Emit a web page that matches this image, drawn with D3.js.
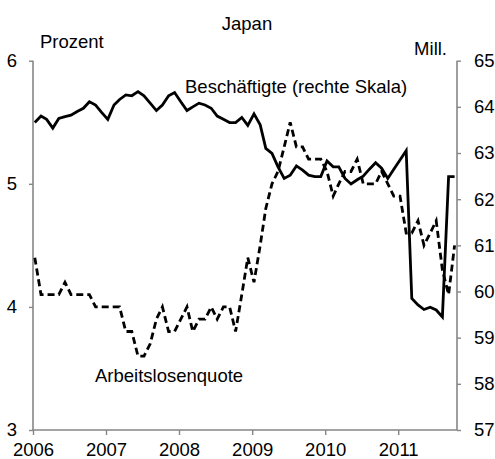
<!DOCTYPE html>
<html>
<head>
<meta charset="utf-8">
<script src="https://cdn.jsdelivr.net/npm/d3@7"></script>
<style>
  body { margin: 0; background: #fff; }
  text { font-family: Arial, "Liberation Sans", sans-serif; font-size: 18.5px; fill: #000; }
</style>
</head>
<body>
<svg width="495" height="459"></svg>
<script>
// monthly data, Jan 2006 - Oct 2011
var firstMonth = new Date(2006, 0, 10);

// Arbeitslosenquote, Prozent (left axis)
var unemployment = [
  4.4, 4.1, 4.1, 4.1, 4.1, 4.2, 4.1, 4.1, 4.1, 4.1, 4.0, 4.0,
  4.0, 4.0, 4.0, 3.8, 3.8, 3.6, 3.6, 3.7, 3.9, 4.0, 3.8, 3.8,
  3.9, 4.0, 3.8, 3.9, 3.9, 4.0, 3.9, 4.0, 4.0, 3.8, 4.1, 4.4,
  4.2, 4.5, 4.8, 5.0, 5.1, 5.3, 5.5, 5.3, 5.3, 5.2, 5.2, 5.2,
  5.1, 4.9, 5.0, 5.1, 5.1, 5.2, 5.0, 5.0, 5.0, 5.1, 5.0, 4.9,
  4.9, 4.6, 4.6, 4.7, 4.5, 4.6, 4.7, 4.3, 4.1, 4.5
];

// Beschäftigte, Mill. (right axis)
var employment = [
  63.66, 63.80, 63.73, 63.54, 63.75, 63.79, 63.82, 63.90, 63.97, 64.11, 64.04, 63.88,
  63.73, 64.04, 64.16, 64.26, 64.24, 64.33, 64.24, 64.08, 63.92, 64.04, 64.24, 64.31,
  64.11, 63.92, 64.00, 64.08, 64.04, 63.97, 63.80, 63.73, 63.66, 63.66, 63.77, 63.60,
  63.85, 63.61, 63.10, 62.99, 62.70, 62.45, 62.52, 62.72, 62.63, 62.52, 62.49, 62.49,
  62.83, 62.70, 62.70, 62.45, 62.33, 62.42, 62.50, 62.65, 62.79, 62.67, 62.45, 62.65,
  62.85, 63.05, 59.85, 59.71, 59.61, 59.66, 59.60, 59.45, 62.49, 62.49
];

var leftTicks = [3, 4, 5, 6];
var rightTicks = [57, 58, 59, 60, 61, 62, 63, 64, 65];
var years = [2006, 2007, 2008, 2009, 2010, 2011];

var svg = d3.select("svg");
var plotL = 33, plotR = 457, plotT = 60.7, plotB = 430;

var x = d3.scaleTime()
    .domain([new Date(2006, 0, 1), new Date(2011, 9, 22)])
    .range([plotL, plotR]);
var yL = d3.scaleLinear().domain([3, 6]).range([plotB, plotT]);
var yR = d3.scaleLinear().domain([57, 65]).range([plotB, plotT]);

function month(i) { return d3.timeMonth.offset(firstMonth, i); }

// axes
var axisColor = "#868686";

var gx = svg.append("g")
    .attr("transform", "translate(0," + plotB + ")")
    .call(d3.axisBottom(x)
      .tickValues(years.map(function(y) { return new Date(y, 0, 1); }))
      .tickFormat(d3.timeFormat("%Y"))
      .tickSize(5).tickPadding(8));

var gl = svg.append("g")
    .attr("transform", "translate(" + plotL + ",0)")
    .call(d3.axisLeft(yL).tickValues(leftTicks).tickFormat(d3.format("d"))
      .tickSize(4).tickPadding(12));

var gr = svg.append("g")
    .attr("transform", "translate(" + plotR + ",0)")
    .call(d3.axisRight(yR).tickValues(rightTicks).tickFormat(d3.format("d"))
      .tickSize(4).tickPadding(13));

[gx, gl, gr].forEach(function(g) {
  g.select(".domain").attr("stroke", axisColor).attr("stroke-width", 1.6);
  g.selectAll(".tick line").attr("stroke", axisColor).attr("stroke-width", 1.4);
  g.selectAll(".tick text")
    .style("font-family", "Arial, 'Liberation Sans', sans-serif")
    .style("font-size", "18.5px")
    .attr("fill", "#000");
});
// plain axis lines without the outer stubs
gx.select(".domain").attr("d", "M" + plotL + ",0H" + plotR);
gl.select(".domain").attr("d", "M0," + plotB + "V" + plotT);
gr.select(".domain").attr("d", "M0," + plotB + "V" + plotT);

// lines
var lineU = d3.line()
    .x(function(d, i) { return x(month(i)); })
    .y(function(d) { return yL(d); });

var lineE = d3.line()
    .x(function(d, i) { return x(month(i)); })
    .y(function(d) { return yR(d); });

svg.append("path")
    .datum(employment)
    .attr("fill", "none")
    .attr("stroke", "#000")
    .attr("stroke-width", 2.8)
    .attr("d", lineE);

svg.append("path")
    .datum(unemployment)
    .attr("fill", "none")
    .attr("stroke", "#000")
    .attr("stroke-width", 2.8)
    .attr("stroke-dasharray", "7,4")
    .attr("d", lineU);

// labels
svg.append("text").attr("x", 247).attr("y", 30).attr("text-anchor", "middle").text("Japan");
svg.append("text").attr("x", 40).attr("y", 48).text("Prozent");
svg.append("text").attr("x", 447).attr("y", 55).attr("text-anchor", "end").text("Mill.");
svg.append("text").attr("x", 185).attr("y", 93).text("Beschäftigte (rechte Skala)");
svg.append("text").attr("x", 95).attr("y", 382).text("Arbeitslosenquote");
</script>
</body>
</html>
